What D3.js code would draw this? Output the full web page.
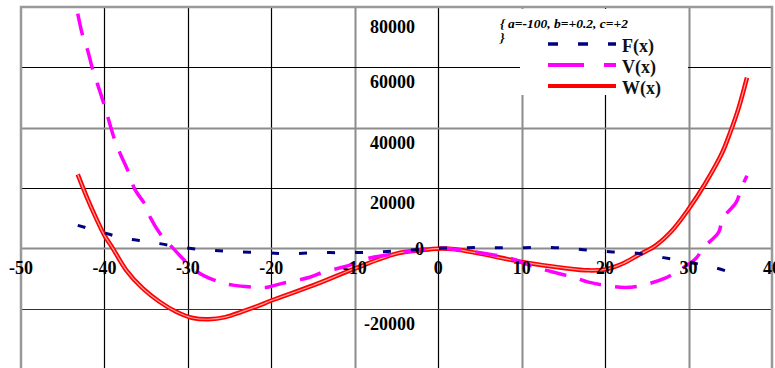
<!DOCTYPE html>
<html>
<head>
<meta charset="utf-8">
<script src="https://cdn.jsdelivr.net/npm/d3@7"></script>
<style>
  body { margin: 0; background: #fff; }
  text { font-family: "Liberation Serif", "Times New Roman", serif; font-weight: bold; }
</style>
</head>
<body>
<div class="main"></div>
<script>
// values
var xTicks = [-50, -40, -30, -20, -10, 0, 10, 20, 30, 40];
var yTicks = [-20000, 0, 20000, 40000, 60000, 80000];

var fX = [-43.2, -40.2, -37.6, -34.8, -31.8, -28.3, -25, -21.4, -17.8, -14.2, -10.6, -7.2, -3.7, 0, 3.5, 6.8, 10.4, 14, 17.4, 20.9, 24.1, 27, 30, 32.9, 35.4];
var fY = [7600, 5300, 3300, 2300, 760, -430, -1000, -1400, -1750, -1430, -1430, -1200, -660, 0, 230, 230, 230, 230, -430, -1200, -1700, -3080, -4600, -6180, -8360];

var vX = [-43.2, -42.6, -42, -41.4, -40.8, -40, -39.5, -38.7, -38, -37.2, -36.4, -35, -34.5, -33, -32, -30.4, -28.8, -26.5, -24.6, -21.6, -20.5, -18.7, -15.4, -13.8, -10.6, -9.4, -4.9, 0, 2.9, 5.4, 8.6, 11, 13, 16.2, 18, 21.8, 23.9, 27.2, 28.5, 30.9, 31.7, 33.6, 34.1, 35.7, 36.3, 37];
var vY = [77800, 70400, 65500, 59200, 54200, 47300, 42600, 35400, 30700, 25800, 19800, 13900, 10200, 3600, 700, -4000, -7900, -10900, -12200, -12900, -12900, -11600, -9600, -7900, -5600, -4000, -1650, 0, -660, -1650, -3300, -5600, -7300, -9600, -11200, -12900, -12600, -9900, -7900, -3300, 0, 5300, 9900, 15200, 19800, 24100];

var wX = [-43.2, -42, -41, -40, -39, -37.4, -35.4, -33.4, -31.4, -29.4, -27.5, -25.5, -23.5, -21.5, -20, -15, -10, -5, -2, 0, 2, 5, 10, 15, 18, 20, 22, 24, 26, 28, 30, 32, 34, 35, 36, 37];
var wY = [24500, 16200, 10000, 4300, 0, -7200, -13300, -17700, -21000, -23100, -23500, -22800, -21000, -19000, -17300, -12300, -6700, -1750, -600, -100, -330, -1750, -4500, -6500, -7300, -7000, -5200, -2200, 800, 5800, 13000, 21500, 31500, 38500, 46500, 56600];

var seriesNames = ["F(x)", "V(x)", "W(x)"];
var note = ["{ a=-100, b=+0.2, c=+2", "}"];

var svg = d3.select(".main").append("svg")
    .attr("width", 775)
    .attr("height", 368);

var x = d3.scaleLinear().domain([-50, 40]).range([21, 772]);
var y = d3.scaleLinear().domain([-40000, 80000]).range([369, 7]);

// grid: some lines came out grey in the original, some black
var greyX = [-10, 10, 30];
var greyY = [0, 40000];

svg.selectAll(".vgrid")
    .data(xTicks.slice(1, -1))
    .enter()
    .append("line")
    .attr("x1", d => Math.round(x(d)) + 0.5)
    .attr("x2", d => Math.round(x(d)) + 0.5)
    .attr("y1", y(80000))
    .attr("y2", 368)
    .attr("stroke", d => greyX.includes(d) ? "#8c8c8c" : "#000")
    .attr("stroke-width", d => greyX.includes(d) ? 2 : 1.2);

svg.selectAll(".hgrid")
    .data(yTicks.slice(0, -1))
    .enter()
    .append("line")
    .attr("x1", x(-50))
    .attr("x2", x(40))
    .attr("y1", d => Math.round(y(d)) + 0.5)
    .attr("y2", d => Math.round(y(d)) + 0.5)
    .attr("stroke", d => greyY.includes(d) ? "#8c8c8c" : (d < 0 ? "#333" : "#000"))
    .attr("stroke-width", d => greyY.includes(d) ? 2 : 1.2);

// plot frame
svg.append("rect")
    .attr("x", x(-50))
    .attr("y", y(80000))
    .attr("width", x(40) - x(-50))
    .attr("height", 380)
    .style("fill", "none")
    .style("stroke", "#999")
    .style("stroke-width", 2.5);

function pts(xs, ys) {
    return xs.map((d, i) => [d, ys[i]]);
}

var line = d3.line()
    .x(d => x(d[0]))
    .y(d => y(d[1]))
    .curve(d3.curveCatmullRom.alpha(0.5));

// W(x): thick red, lighter core like the hollow markers
svg.append("path")
    .attr("d", line(pts(wX, wY)))
    .attr("fill", "none")
    .attr("stroke", "#ff0000")
    .attr("stroke-width", 4.5);
svg.append("path")
    .attr("d", line(pts(wX, wY)))
    .attr("fill", "none")
    .attr("stroke", "#ffc8c8")
    .attr("stroke-width", 1.2)
    .attr("opacity", 0.8);

// V(x): magenta long dashes
svg.append("path")
    .attr("d", line(pts(vX, vY)))
    .attr("fill", "none")
    .attr("stroke", "#ff00ff")
    .attr("stroke-width", 3.5)
    .attr("stroke-dasharray", "22,14");

// F(x): navy short dashes
svg.append("path")
    .attr("d", line(pts(fX, fY)))
    .attr("fill", "none")
    .attr("stroke", "#000080")
    .attr("stroke-width", 3)
    .attr("stroke-dasharray", "8,20");

// note + legend boxes
svg.append("rect")
    .attr("x", 495).attr("y", 9)
    .attr("width", 193).attr("height", 27)
    .style("fill", "#fff");
svg.append("rect")
    .attr("x", 520).attr("y", 35)
    .attr("width", 168).attr("height", 60)
    .style("fill", "#fff");

svg.selectAll(".note")
    .data(note)
    .enter()
    .append("text")
    .attr("x", 500)
    .attr("y", (d, i) => 28 + i * 14)
    .text(d => d)
    .style("font-size", "13.5px")
    .style("font-style", "italic")
    .style("fill", "#000");

var legendColor = ["#000080", "#ff00ff", "#ff0000"];
var legendDash = ["10,20", "36,20", null];
var legendW = [3.5, 4, 4];

svg.selectAll(".legline")
    .data(seriesNames)
    .enter()
    .append("line")
    .attr("x1", 548)
    .attr("x2", 616)
    .attr("y1", (d, i) => 44 + i * 21)
    .attr("y2", (d, i) => 44 + i * 21)
    .attr("stroke", (d, i) => legendColor[i])
    .attr("stroke-width", (d, i) => legendW[i])
    .attr("stroke-dasharray", (d, i) => legendDash[i]);

svg.selectAll(".legtext")
    .data(seriesNames)
    .enter()
    .append("text")
    .attr("x", 622)
    .attr("y", (d, i) => 52 + i * 21)
    .text(d => d)
    .style("font-size", "18px")
    .style("fill", "#111");

// tick labels (the last one runs off the right edge, as in the original)
svg.selectAll(".xlab")
    .data(xTicks)
    .enter()
    .append("text")
    .attr("x", d => x(d))
    .attr("y", 274)
    .attr("text-anchor", "middle")
    .text(d => d)
    .style("font-size", "18px");

svg.selectAll(".ylab")
    .data(yTicks)
    .enter()
    .append("text")
    .attr("x", d => d == 0 ? 424 : 415)
    .attr("y", d => d == 80000 ? 33 : (d == 0 ? y(d) + 7 : y(d) + 21))
    .attr("text-anchor", "end")
    .text(d => d)
    .style("font-size", "18px");
</script>
</body>
</html>
